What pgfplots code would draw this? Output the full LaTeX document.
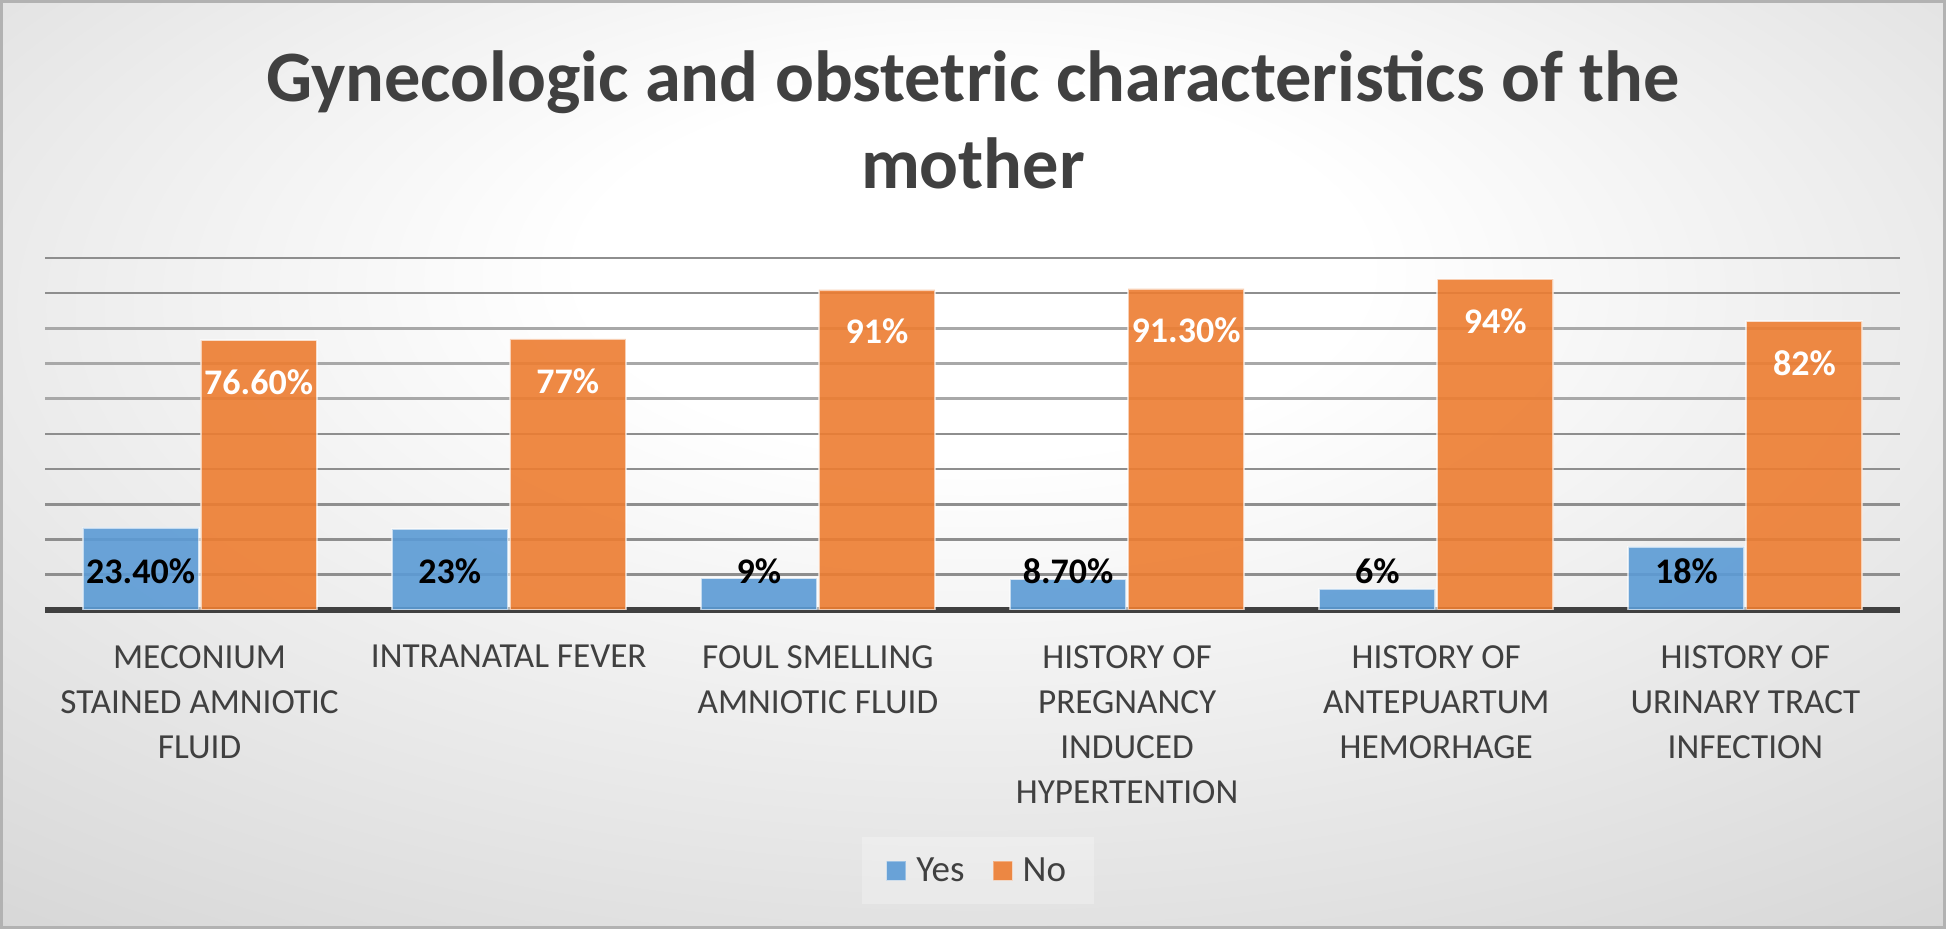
\documentclass[border=0pt]{standalone}
\usepackage{fontspec}
\setmainfont{Carlito}
\usepackage{pgfplots}
\pgfplotsset{compat=1.18}
\definecolor{yescol}{HTML}{5B9BD5}
\definecolor{nocol}{HTML}{ED7D31}
\definecolor{txt}{HTML}{404040}
\definecolor{gridA}{HTML}{8E8E8E}
\definecolor{gridB}{HTML}{A8A8A8}
\definecolor{gridC}{HTML}{C8C8C8}
\pgfdeclareradialshading{bgshade}{\pgfpoint{0bp}{12bp}}{color(0bp)=(white); color(10bp)=(white); color(50bp)=(black!21); color(80bp)=(black!30)}
\begin{document}
\begin{tikzpicture}
\shade[shading=bgshade] (0,0) rectangle (973pt,464.5pt);
\draw[black!30, line width=1.5pt] (0.75pt,0.75pt) rectangle (972.25pt,463.75pt);
\node[font=\bfseries\fontsize{36.2}{43.5}\selectfont, text=txt, anchor=base, inner sep=0pt] at (486.5pt,413.6pt) {Gynecologic and obstetric characteristics of the};
\node[font=\bfseries\fontsize{36.2}{43.5}\selectfont, text=txt, anchor=base, inner sep=0pt] at (486.5pt,370.2pt) {mother};
\begin{axis}[
  at={(22.5pt,159.5pt)}, anchor=south west,
  scale only axis, width=927.5pt, height=176pt,
  xmin=-0.5, xmax=5.5, ymin=0, ymax=100,
  ybar=1pt, bar width=58pt,
  axis x line*=bottom, axis y line*=left,
  x axis line style={line width=3pt, color=txt, -},
  y axis line style={draw=none},
  ytick={10,20,30,40,50}, minor ytick={60,70,80},
  extra y ticks={90,100}, extra y tick labels={},
  yticklabels={}, 
  ymajorgrids, yminorgrids,
  major grid style={gridA, line width=1.3pt},
  minor grid style={gridB, line width=1.3pt},
  extra y tick style={grid style={gridC, line width=1.3pt}, major tick length=0pt},
  major tick length=0pt, minor tick length=0pt,
  xtick={0,...,5},
  xticklabels={{MECONIUM\\STAINED AMNIOTIC\\FLUID},{INTRANATAL FEVER},{FOUL SMELLING\\AMNIOTIC FLUID},{HISTORY OF\\PREGNANCY\\INDUCED\\HYPERTENTION},{HISTORY OF\\ANTEPUARTUM\\HEMORHAGE},{HISTORY OF\\URINARY TRACT\\INFECTION}},
  xticklabel style={align=center, font=\fontsize{17.6}{22.5}\selectfont, text=txt, anchor=north, inner sep=0pt, yshift=-17.5pt},
  nodes near coords,
  point meta=explicit symbolic,
  legend style={draw=none, fill=white, fill opacity=0.25, text opacity=1, at={(0.503,-0.7406)}, anchor=center, legend columns=2, font=\fontsize{18.5}{18.5}\selectfont, text=txt, inner xsep=12pt, inner ysep=8pt, /tikz/every even column/.append style={column sep=12pt}, /tikz/every odd column/.append style={column sep=3pt}},
]
\addplot[fill=yescol, fill opacity=0.9, draw=white, draw opacity=0.6, line width=1pt,
  legend image code/.code={\draw[fill=yescol, fill opacity=0.9, draw=white!60!yescol, line width=0.6pt] (0pt,-4.75pt) rectangle (9.5pt,4.75pt);},
  visualization depends on={rawy \as \rawy},
  every node near coord/.append style={anchor=center, yshift=19.5pt-\rawy*1.76pt, font=\bfseries\fontsize{18}{18}\selectfont, text=black, text opacity=1}]
  coordinates {(0,23.4)[23.40\%] (1,23)[23\%] (2,9)[9\%] (3,8.7)[8.70\%] (4,6)[6\%] (5,18)[18\%]};
\addlegendentry{Yes}
\addplot[fill=nocol, fill opacity=0.9, draw=white, draw opacity=0.6, line width=1pt,
  legend image code/.code={\draw[fill=nocol, fill opacity=0.9, draw=white!60!nocol, line width=0.6pt] (0pt,-4.75pt) rectangle (9.5pt,4.75pt);},
  every node near coord/.append style={anchor=center, yshift=-21pt, font=\bfseries\fontsize{18}{18}\selectfont, text=white, text opacity=1}]
  coordinates {(0,76.6)[76.60\%] (1,77)[77\%] (2,91)[91\%] (3,91.3)[91.30\%] (4,94)[94\%] (5,82)[82\%]};
\addlegendentry{No}
\end{axis}
\end{tikzpicture}
\end{document}
